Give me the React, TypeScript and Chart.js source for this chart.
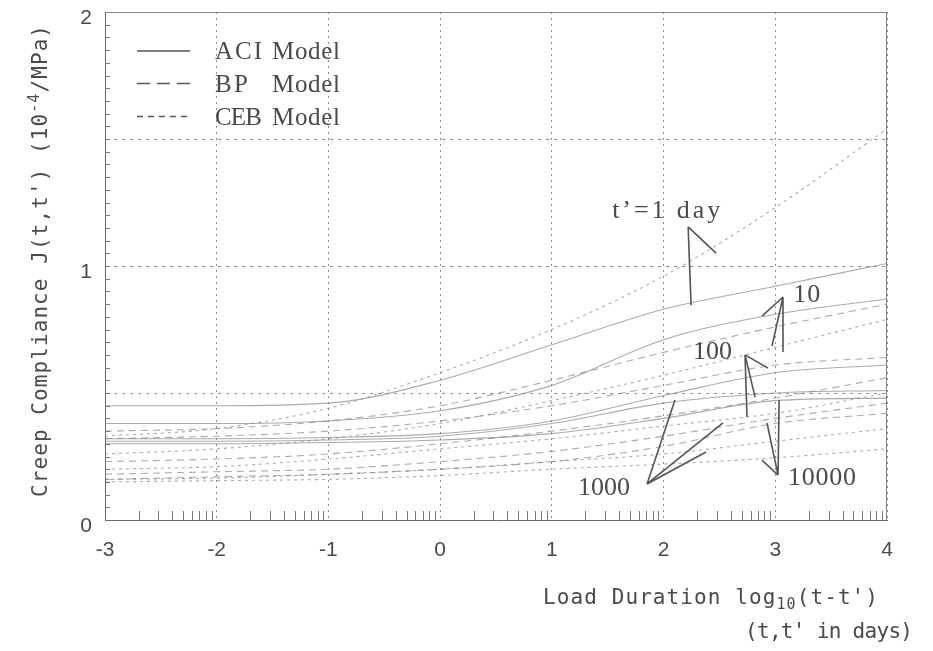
import React, { useEffect, useRef } from 'react';
import { Chart, registerables } from 'chart.js';

Chart.register(...registerables);

// Load duration, log10(t - t') in days
const logDuration = [-3, -2, -1, 0, 1, 2, 3, 4];

// Creep compliance J(t,t'), 10^-4 / MPa
const aciT1 = [0.45, 0.45, 0.46, 0.55, 0.69, 0.83, 0.92, 1.01];
const bpT1 = [0.35, 0.36, 0.39, 0.45, 0.55, 0.66, 0.76, 0.85];
const cebT1 = [0.33, 0.36, 0.44, 0.58, 0.75, 0.96, 1.23, 1.54];
const aciT10 = [0.38, 0.38, 0.39, 0.43, 0.53, 0.71, 0.81, 0.87];
const bpT10 = [0.32, 0.33, 0.35, 0.39, 0.45, 0.53, 0.61, 0.64];
const cebT10 = [0.26, 0.28, 0.32, 0.38, 0.47, 0.57, 0.68, 0.79];
const aciT100 = [0.32, 0.32, 0.325, 0.34, 0.39, 0.49, 0.58, 0.61];
const bpT100 = [0.23, 0.24, 0.26, 0.3, 0.35, 0.41, 0.48, 0.56];
const cebT100 = [0.2, 0.21, 0.24, 0.28, 0.32, 0.37, 0.42, 0.5];
const aciT1000 = [0.31, 0.31, 0.315, 0.33, 0.38, 0.46, 0.5, 0.51];
const bpT1000 = [0.18, 0.19, 0.2, 0.23, 0.27, 0.33, 0.4, 0.46];
const cebT1000 = [0.16, 0.165, 0.18, 0.2, 0.23, 0.26, 0.31, 0.36];
const aciT10000 = [0.3, 0.3, 0.305, 0.315, 0.34, 0.4, 0.47, 0.48];
const bpT10000 = [0.16, 0.17, 0.18, 0.2, 0.23, 0.29, 0.38, 0.42];
const cebT10000 = [0.15, 0.155, 0.16, 0.175, 0.2, 0.22, 0.245, 0.28];

const xTicks = [-3, -2, -1, 0, 1, 2, 3, 4];
const yTickLabels = [0, 1, 2];

const models = ['ACI', 'BP', 'CEB'];
const modelWord = 'Model';

// callout labels (positions in data space)
const callouts = [
  { text: 't’=1 day', at: [1.54, 1.19], width: 108, apex: [2.22, 1.154], ends: [[2.47, 1.051], [2.246, 0.846]] },
  { text: '10', at: [3.16, 0.858], width: 27, apex: [3.069, 0.878], ends: [[2.881, 0.803], [2.971, 0.685], [3.069, 0.661]] },
  { text: '100', at: [2.264, 0.634], width: 39, apex: [2.729, 0.65], ends: [[2.935, 0.598], [2.819, 0.484], [2.747, 0.406]] },
  { text: '1000', at: [1.234, 0.098], width: 52, apex: [1.852, 0.142], ends: [[2.102, 0.472], [2.532, 0.382], [2.38, 0.268]] },
  { text: '10000', at: [3.114, 0.138], width: 68, apex: [3.025, 0.177], ends: [[3.034, 0.472], [2.926, 0.382], [2.881, 0.236]] },
];

const SERIES = [
  { model: 'ACI', values: aciT1 }, { model: 'BP', values: bpT1 }, { model: 'CEB', values: cebT1 },
  { model: 'ACI', values: aciT10 }, { model: 'BP', values: bpT10 }, { model: 'CEB', values: cebT10 },
  { model: 'ACI', values: aciT100 }, { model: 'BP', values: bpT100 }, { model: 'CEB', values: cebT100 },
  { model: 'ACI', values: aciT1000 }, { model: 'BP', values: bpT1000 }, { model: 'CEB', values: cebT1000 },
  { model: 'ACI', values: aciT10000 }, { model: 'BP', values: bpT10000 }, { model: 'CEB', values: cebT10000 },
];

const DASH: Record<string, number[]> = { ACI: [], BP: [7, 5], CEB: [3, 4] };
const LEGEND_DASH: Record<string, number[]> = { ACI: [], BP: [13, 7], CEB: [6, 5] };

const MONO = '"DejaVu Sans Mono", "Liberation Mono", monospace';
const SERIF = '"Liberation Serif", "DejaVu Serif", serif';
const TICKFONT = '"Liberation Sans Narrow", "Liberation Sans", sans-serif';
const TEXT = '#4a4a4a';

type Part = { t: string; font: string; dy: number };

function fitText(ctx: CanvasRenderingContext2D, parts: Part[], x0: number, width: number, baseline: number) {
  let w0 = 0;
  let n = 0;
  for (const p of parts) {
    ctx.font = p.font;
    for (const ch of p.t) {
      w0 += ctx.measureText(ch).width;
      n += 1;
    }
  }
  const sp = n > 1 ? (width - w0) / (n - 1) : 0;
  let cx = x0;
  for (const p of parts) {
    ctx.font = p.font;
    for (const ch of p.t) {
      ctx.fillText(ch, cx, baseline + p.dy);
      cx += ctx.measureText(ch).width + sp;
    }
  }
}

const decor = {
  id: 'decor',
  afterDraw(chart: any) {
    const { ctx, chartArea: a, scales } = chart;
    const xs = scales.x;
    const ys = scales.y;
    ctx.save();
    ctx.textAlign = 'left';
    ctx.textBaseline = 'alphabetic';

    // top and right frame
    ctx.strokeStyle = '#858585';
    ctx.lineWidth = 1;
    ctx.setLineDash([]);
    ctx.beginPath();
    ctx.moveTo(a.left, a.top + 0.5);
    ctx.lineTo(a.right - 0.5, a.top + 0.5);
    ctx.lineTo(a.right - 0.5, a.bottom);
    ctx.stroke();

    // minor ticks: log sub-decades on x, 0.05 steps on y
    ctx.strokeStyle = '#7a7a7a';
    ctx.beginPath();
    for (let k = -3; k < 4; k++) {
      for (let m = 2; m <= 9; m++) {
        const px = Math.round(xs.getPixelForValue(k + Math.log10(m))) + 0.5;
        ctx.moveTo(px, a.bottom);
        ctx.lineTo(px, a.bottom - 9);
      }
    }
    for (let i = 1; i < 40; i++) {
      const py = Math.round(ys.getPixelForValue(i * 0.05)) + 0.5;
      ctx.moveTo(a.left, py);
      ctx.lineTo(a.left + 5, py);
    }
    ctx.stroke();

    // legend
    const legendY = [51, 83.5, 116.5];
    const legendBase = [59, 92, 125];
    models.forEach((m, i) => {
      ctx.strokeStyle = '#555';
      ctx.lineWidth = 1.4;
      ctx.setLineDash(LEGEND_DASH[m]);
      ctx.beginPath();
      ctx.moveTo(137, legendY[i]);
      ctx.lineTo(190, legendY[i]);
      ctx.stroke();
      ctx.setLineDash([]);
      ctx.fillStyle = TEXT;
      const font = `25px ${SERIF}`;
      const w = m.length === 2 ? 33 : 47;
      fitText(ctx, [{ t: m, font, dy: 0 }], 215, w, legendBase[i]);
      fitText(ctx, [{ t: modelWord, font, dy: 0 }], 272, 68, legendBase[i]);
    });

    // callouts
    callouts.forEach((c) => {
      const ax = xs.getPixelForValue(c.apex[0]);
      const ay = ys.getPixelForValue(c.apex[1]);
      ctx.strokeStyle = '#555';
      ctx.lineWidth = 1.6;
      ctx.setLineDash([]);
      ctx.beginPath();
      c.ends.forEach((e) => {
        ctx.moveTo(ax, ay);
        ctx.lineTo(xs.getPixelForValue(e[0]), ys.getPixelForValue(e[1]));
      });
      ctx.stroke();
      ctx.fillStyle = TEXT;
      fitText(ctx, [{ t: c.text, font: `26px ${SERIF}`, dy: 0 }], xs.getPixelForValue(c.at[0]), c.width, ys.getPixelForValue(c.at[1]));
    });

    // axis titles
    ctx.fillStyle = TEXT;
    const big = `21px ${MONO}`;
    const small = `15px ${MONO}`;
    fitText(
      ctx,
      [
        { t: 'Load Duration log', font: big, dy: 0 },
        { t: '10', font: small, dy: 5 },
        { t: "(t-t')", font: big, dy: 0 },
      ],
      543,
      335,
      604,
    );
    fitText(ctx, [{ t: "(t,t' in days)", font: big, dy: 0 }], 745, 168, 638);

    ctx.save();
    ctx.translate(47, 261);
    ctx.rotate(-Math.PI / 2);
    fitText(
      ctx,
      [
        { t: "Creep Compliance J(t,t') (10", font: big, dy: 0 },
        { t: '-4', font: small, dy: -8 },
        { t: '/MPa)', font: big, dy: 0 },
      ],
      -236,
      472,
      0,
    );
    ctx.restore();

    ctx.restore();
  },
};

export default function App() {
  const ref = useRef<HTMLCanvasElement | null>(null);

  useEffect(() => {
    if (!ref.current) return;
    const datasets = SERIES.map((s) => ({
      data: s.values.map((v, i) => ({ x: logDuration[i], y: v })),
      borderColor: 'rgba(120,120,120,0.62)',
      borderWidth: 1.1,
      borderDash: DASH[s.model],
      pointRadius: 0,
      fill: false,
      cubicInterpolationMode: 'monotone' as const,
    }));

    const chart = new Chart(ref.current, {
      type: 'line',
      data: { datasets },
      options: {
        responsive: false,
        animation: false,
        devicePixelRatio: 1,
        layout: { padding: { top: 12, right: 46, left: 0, bottom: 0 } },
        plugins: { legend: { display: false }, tooltip: { enabled: false } },
        scales: {
          x: {
            type: 'linear',
            min: -3,
            max: 4,
            afterFit: (s: any) => {
              s.height = 131;
              s.paddingLeft = 0;
              s.paddingRight = 0;
            },
            afterBuildTicks: (s: any) => {
              s.ticks = xTicks.map((v) => ({ value: v }));
            },
            ticks: {
              color: TEXT,
              font: { family: TICKFONT, size: 21 },
              padding: 18,
              maxRotation: 0,
              callback: (v: any) => String(v),
            },
            grid: { color: '#8f8f8f', lineWidth: 1, drawTicks: false },
            border: { display: true, color: '#6a6a6a', width: 1, dash: [2, 4] },
          },
          y: {
            type: 'linear',
            min: 0,
            max: 2,
            afterFit: (s: any) => {
              s.width = 105;
              s.paddingTop = 0;
              s.paddingBottom = 0;
            },
            ticks: {
              stepSize: 0.5,
              color: TEXT,
              font: { family: TICKFONT, size: 21 },
              padding: 13,
              labelOffset: 6,
              callback: (v: any) => (yTickLabels.includes(Number(v)) ? String(v) : ''),
            },
            grid: { color: '#8f8f8f', lineWidth: 1, drawTicks: false },
            border: { display: true, color: '#6a6a6a', width: 1, dash: [3, 5] },
          },
        },
      },
      plugins: [decor],
    });
    return () => chart.destroy();
  }, []);

  return (
    <div style={{ position: 'absolute', left: 0, top: 0, width: 933, height: 651, background: '#fff' }}>
      <canvas ref={ref} width={933} height={651} />
    </div>
  );
}
